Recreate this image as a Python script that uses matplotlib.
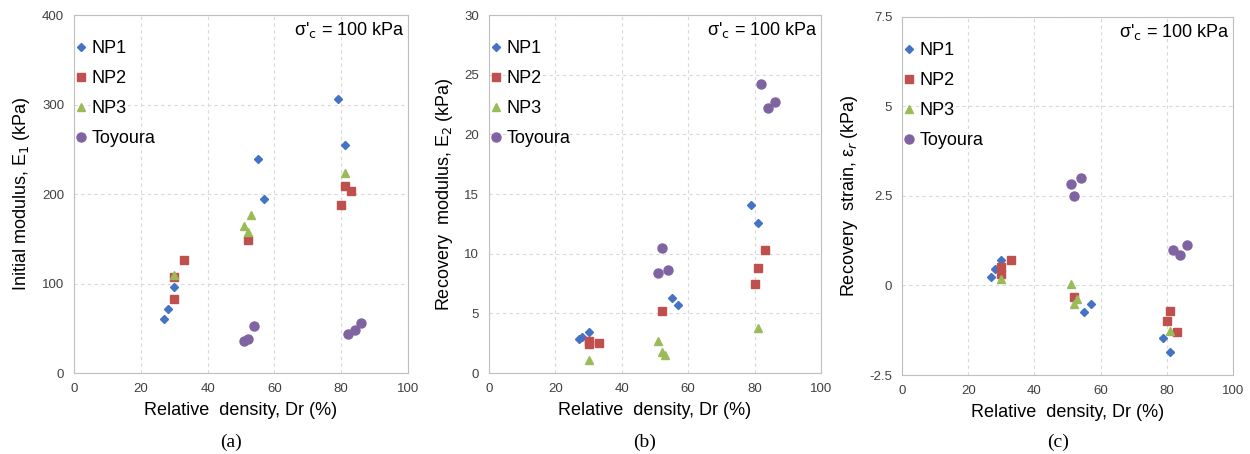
import matplotlib
matplotlib.use("Agg")
import matplotlib.pyplot as plt

plt.rcParams['font.family'] = ['Liberation Sans', 'DejaVu Sans']

# relative density (%) for each series
dr_np1 = [27, 28, 30, 55, 57, 79, 81]
dr_np2 = [30, 30, 33, 52, 80, 81, 83]
dr_np3 = [30, 51, 52, 53, 81]
dr_toy = [51, 52, 54, 82, 84, 86]

# (a) initial modulus E1
e1_np1 = [60, 72, 96, 239, 194, 306, 255]
e1_np2 = [83, 107, 126, 149, 188, 209, 203]
e1_np3 = [110, 164, 158, 177, 224]
e1_toy = [36, 38, 53, 44, 48, 56]

# (b) recovery modulus E2 (NP2 order matches dr_np2)
e2_np1 = [2.85, 3.05, 3.4, 6.26, 5.67, 14.1, 12.6]
e2_np2 = [2.7, 2.46, 2.5, 5.2, 7.46, 8.8, 10.3]
e2_np3 = [1.1, 2.7, 1.8, 1.5, 3.74]
e2_toy = [8.35, 10.45, 8.63, 24.25, 22.2, 22.7]

# (c) recovery strain
er_np1 = [0.24, 0.47, 0.70, -0.73, -0.52, -1.46, -1.86]
er_np2 = [0.52, 0.32, 0.71, -0.32, -1.0, -0.72, -1.3]
er_np3 = [0.18, 0.05, -0.52, -0.39, -1.26]
er_toy = [2.84, 2.5, 2.99, 0.98, 0.84, 1.14]

names = ['NP1', 'NP2', 'NP3', 'Toyoura']
colors = ['#4472C4', '#C0504D', '#9BBB59', '#8064A2']
markers = ['D', 's', '^', 'o']
msizes = [4, 5.5, 5.5, 6.5]

panels = [
    dict(pos=[0.0592, 0.1784, 0.2672, 0.7885], ys=[e1_np1, e1_np2, e1_np3, e1_toy],
         ylim=(0, 400), yticks=[0, 100, 200, 300, 400], yfmt=['0', '100', '200', '300', '400'],
         ylabel='Initial modulus, E$_1$ (kPa)', cap='(a)'),
    dict(pos=[0.3912, 0.1784, 0.2656, 0.7885], ys=[e2_np1, e2_np2, e2_np3, e2_toy],
         ylim=(0, 30), yticks=[0, 5, 10, 15, 20, 25, 30], yfmt=['0', '5', '10', '15', '20', '25', '30'],
         ylabel='Recovery  modulus, E$_2$ (kPa)', cap='(b)'),
    dict(pos=[0.7216, 0.174, 0.2648, 0.7886], ys=[er_np1, er_np2, er_np3, er_toy],
         ylim=(-2.5, 7.5), yticks=[-2.5, 0, 2.5, 5, 7.5], yfmt=['-2.5', '0', '2.5', '5', '7.5'],
         ylabel='Recovery  strain, ε$_r$ (kPa)', cap='(c)'),
]
xs = [dr_np1, dr_np2, dr_np3, dr_toy]

fig = plt.figure(figsize=(12.5, 4.54), dpi=100)

for p in panels:
    ax = fig.add_axes(p['pos'])
    for x, y, n, c, m, s in zip(xs, p['ys'], names, colors, markers, msizes):
        ax.plot(x, y, linestyle='none', marker=m, color=c, markersize=s, label=n)
    ax.set_xlim(0, 100)
    ax.set_ylim(*p['ylim'])
    ax.set_xticks([0, 20, 40, 60, 80, 100])
    ax.set_yticks(p['yticks'])
    ax.set_yticklabels(p['yfmt'])
    ax.grid(True, color='#d9d9d9', linestyle=(0, (3, 3)), linewidth=0.8)
    ax.set_axisbelow(True)
    for sp in ax.spines.values():
        sp.set_color('#bfbfbf')
    ax.tick_params(length=0, labelsize=9.5, colors='#404040', pad=7)
    ax.set_xlabel('Relative  density, Dr (%)', fontsize=13, labelpad=5)
    ax.set_ylabel(p['ylabel'], fontsize=13, labelpad=7)
    ax.text(0.99, 0.985, "σ'$_\\mathrm{c}$ = 100 kPa", transform=ax.transAxes,
            ha='right', va='top', fontsize=13)
    ax.legend(loc='upper left', bbox_to_anchor=(-0.045, 0.96), frameon=False, fontsize=13,
              handletextpad=0.0, labelspacing=0.72, handlelength=1.2, borderaxespad=0.2)
    x0 = p['pos'][0] + p['pos'][2] * 0.47
    fig.text(x0, 0.026, p['cap'], ha='center', va='center', fontsize=14,
             family=['Liberation Serif', 'DejaVu Serif'])

fig.savefig('out.png', dpi=100)
